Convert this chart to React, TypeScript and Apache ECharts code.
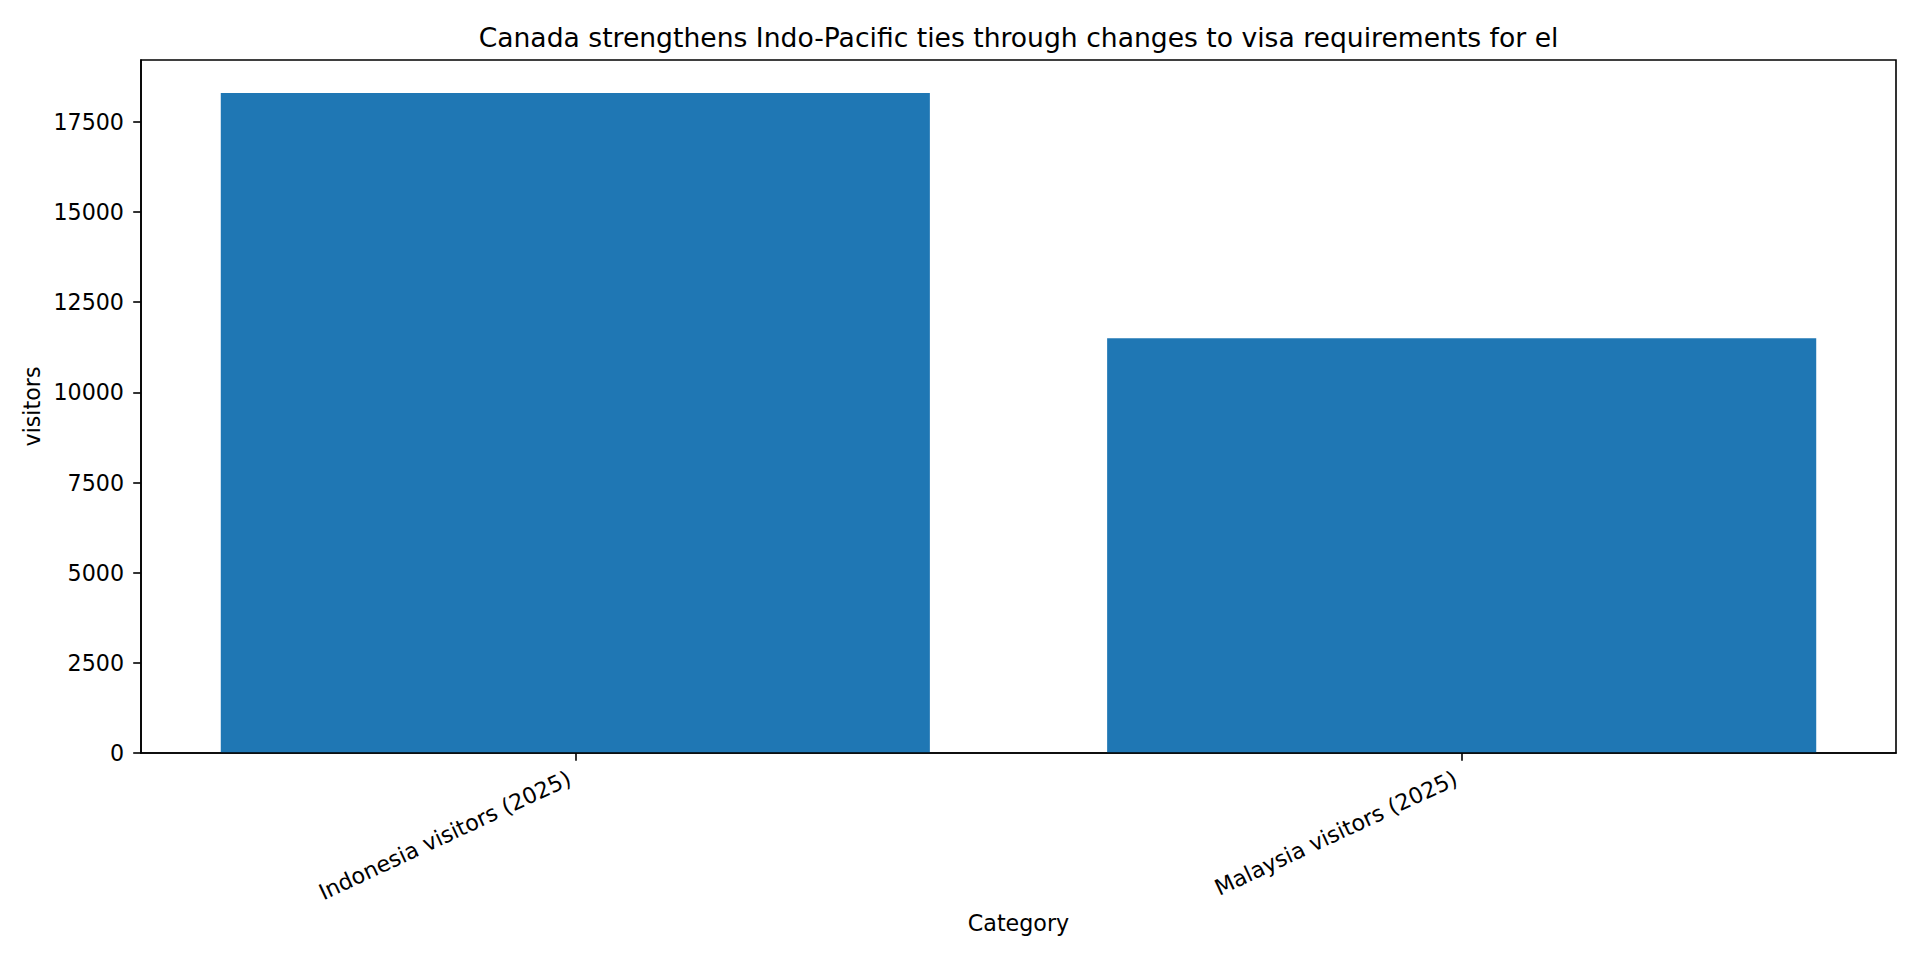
import React, { useEffect, useRef } from "react";
import * as echarts from "echarts";

const TITLE = "Canada strengthens Indo-Pacific ties through changes to visa requirements for el";
const categories = ["Indonesia visitors (2025)", "Malaysia visitors (2025)"];
const visitors = [18300, 11500];
const yTicks = [0, 2500, 5000, 7500, 10000, 12500, 15000, 17500];
const xLabel = "Category";
const yLabel = "visitors";

const FONT = "DejaVu Sans";
const FS = 22.2;

export default function App() {
  const ref = useRef<HTMLDivElement>(null);
  useEffect(() => {
    document.body.style.margin = "0";
    const chart = echarts.init(ref.current!, null, { renderer: "svg" });
    const catIdx = categories.map((_, i) => i);
    const yMax = Math.max(...visitors) * 1.05;
    const xPad = (categories.length - 1 + 0.8) * 0.05 + 0.4;
    const gridLeft = 141;
    const gridRight = 24;
    chart.setOption({
      animation: false,
      backgroundColor: "#ffffff",
      title: {
        text: TITLE,
        left: gridLeft + (1920 - gridLeft - gridRight) / 2,
        textAlign: "center",
        top: 24,
        padding: 0,
        textStyle: { fontFamily: FONT, fontSize: 26.6, fontWeight: "normal", color: "#000" },
      },
      grid: {
        left: gridLeft,
        right: gridRight,
        top: 60,
        bottom: 207,
        show: true,
        borderColor: "#000",
        borderWidth: 1.6,
        backgroundColor: "transparent",
      },
      xAxis: {
        type: "value",
        min: -xPad,
        max: categories.length - 1 + xPad,
        z: 10,
        name: xLabel,
        nameLocation: "middle",
        nameGap: 159,
        nameTextStyle: { fontFamily: FONT, fontSize: FS, color: "#000" },
        splitLine: { show: false },
        axisLine: { show: true, onZero: false, lineStyle: { color: "#000", width: 1.6 } },
        axisTick: {
          show: true,
          customValues: catIdx,
          length: 7.8,
          lineStyle: { color: "#000", width: 1.6 },
        },
        axisLabel: {
          customValues: catIdx,
          rotate: 25,
          margin: 21,
          padding: [0, 6.6, 0, 0],
          fontFamily: FONT,
          fontSize: FS,
          color: "#000",
          formatter: (v: number) => categories[Math.round(v)] ?? "",
        },
      },
      yAxis: {
        type: "value",
        min: 0,
        max: yMax,
        z: 10,
        name: yLabel,
        nameLocation: "middle",
        nameGap: 94,
        nameTextStyle: { fontFamily: FONT, fontSize: FS, color: "#000" },
        splitLine: { show: false },
        axisLine: { show: true, onZero: false, lineStyle: { color: "#000", width: 1.6 } },
        axisTick: {
          show: true,
          customValues: yTicks,
          length: 7.8,
          lineStyle: { color: "#000", width: 1.6 },
        },
        axisLabel: {
          customValues: yTicks,
          margin: 17,
          fontFamily: FONT,
          fontSize: FS,
          color: "#000",
          formatter: (v: number) => String(v),
        },
      },
      series: [
        {
          type: "bar",
          data: visitors.map((v, i) => [catIdx[i], v]),
          barWidth: "80%",
          itemStyle: { color: "#1f77b4" },
        },
      ],
    });
    return () => chart.dispose();
  }, []);
  return <div ref={ref} style={{ position: "absolute", left: 0, top: 0, width: 1920, height: 960 }} />;
}
